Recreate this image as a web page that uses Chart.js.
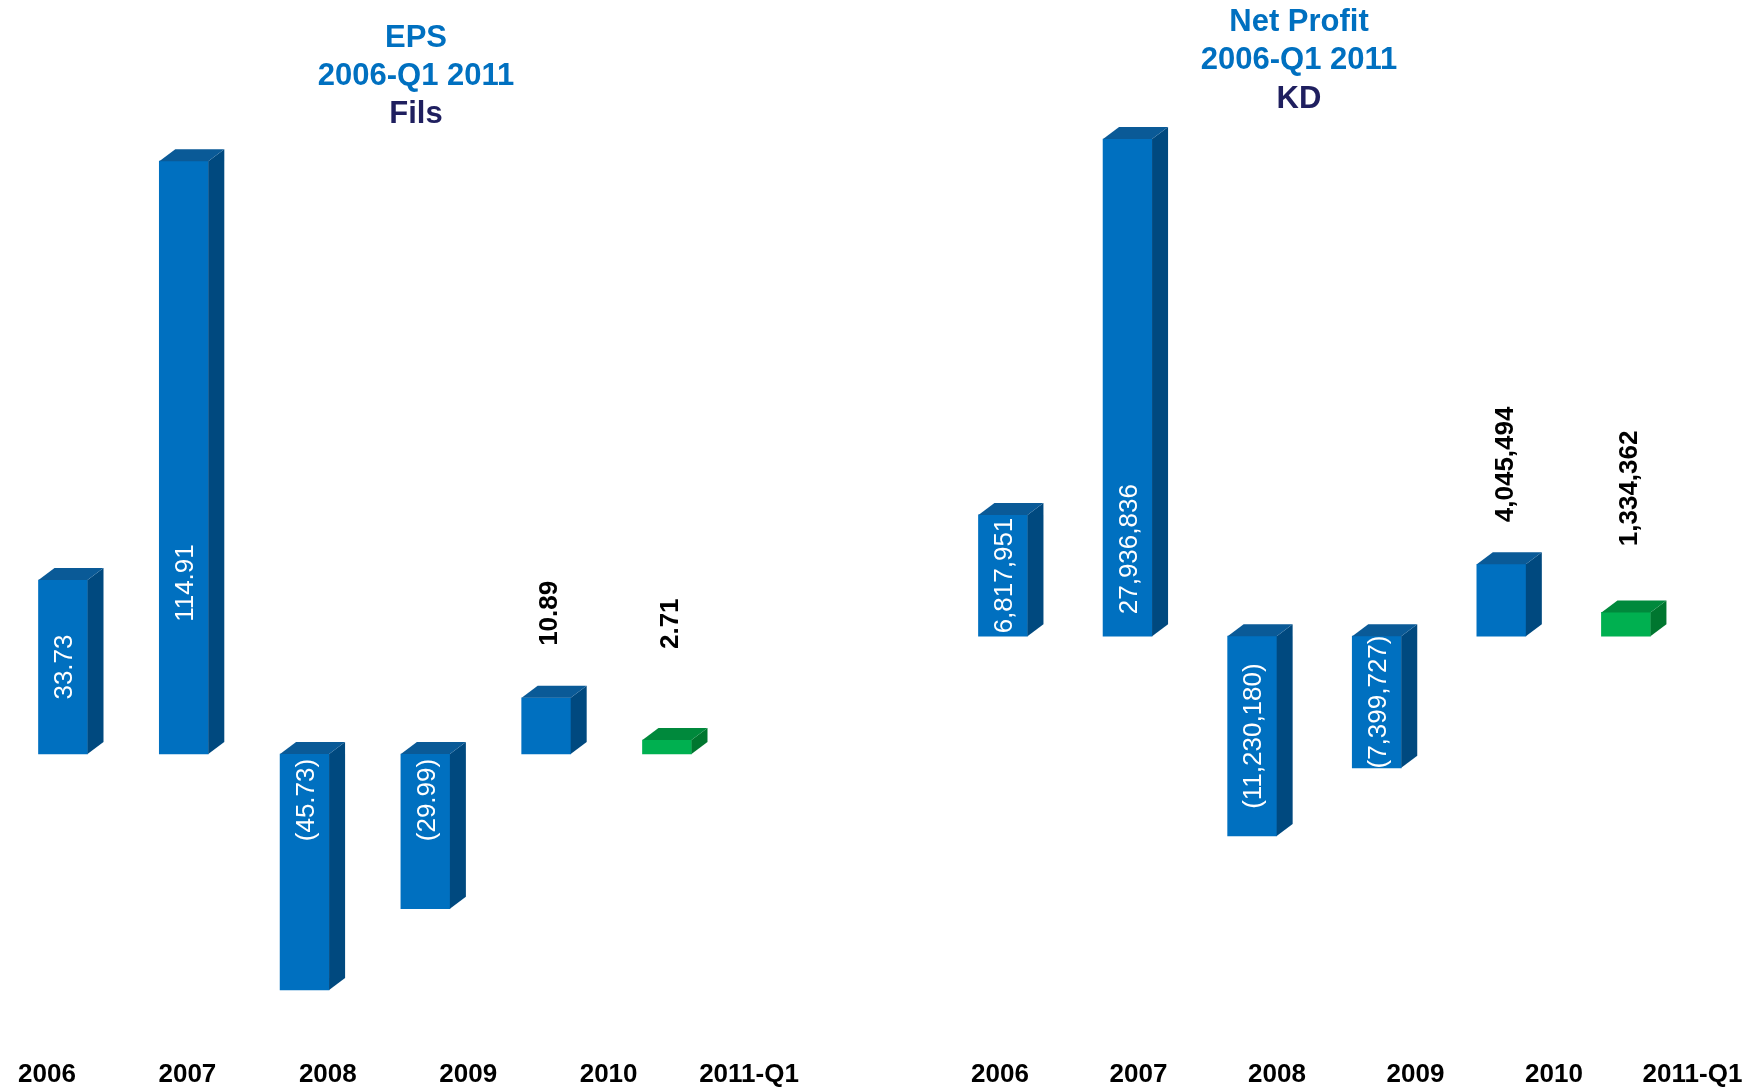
<!DOCTYPE html>
<html>
<head>
<meta charset="utf-8">
<script src="https://cdn.jsdelivr.net/npm/chart.js@4.4.1/dist/chart.umd.min.js"></script>
<style>
  html, body { margin: 0; padding: 0; background: #fff; }
  body { width: 1760px; height: 1090px; position: relative; overflow: hidden; }
  canvas { position: absolute; top: 0; }
  #eps { left: 0; }
  #np { left: 840px; }
</style>
</head>
<body>
<canvas id="eps" width="832" height="1090"></canvas>
<canvas id="np" width="918" height="1090"></canvas>
<script>
const years = ["2006", "2007", "2008", "2009", "2010", "2011-Q1"];
const epsFils = [33.73, 114.91, -45.73, -29.99, 10.89, 2.71];
const netProfitKD = [6817951, 27936836, -11230180, -7399727, 4045494, 1334362];

const FONT = "'Liberation Sans', Arial, sans-serif";
const BLUE = { front: "#0070C0", top: "#0A5A97", side: "#00497F" };
const GREEN = { front: "#00B050", top: "#00893C", side: "#00762F" };
const DX = 16, DY = 12; // depth of the 3d faces

// last bar is the quarter -> green
const shadeOf = (i) => (i === years.length - 1 ? GREEN : BLUE);

const bar3d = {
  id: "bar3d",
  afterDatasetsDraw(chart) {
    const ctx = chart.ctx;
    chart.getDatasetMeta(0).data.forEach((bar, i) => {
      const { x, y, base, width } = bar.getProps(["x", "y", "base", "width"], true);
      const l = x - width / 2, r = x + width / 2;
      const t = Math.min(y, base), b = Math.max(y, base);
      const c = shadeOf(i);
      ctx.save();
      ctx.fillStyle = c.side;
      ctx.beginPath();
      ctx.moveTo(r, t); ctx.lineTo(r + DX, t - DY); ctx.lineTo(r + DX, b - DY); ctx.lineTo(r, b);
      ctx.closePath(); ctx.fill();
      ctx.fillStyle = c.top;
      ctx.beginPath();
      ctx.moveTo(l, t); ctx.lineTo(l + DX, t - DY); ctx.lineTo(r + DX, t - DY); ctx.lineTo(r, t);
      ctx.closePath(); ctx.fill();
      ctx.restore();
    });
  }
};

const barLabels = {
  id: "barLabels",
  afterDatasetsDraw(chart, args, opts) {
    const ctx = chart.ctx;
    const data = chart.data.datasets[0].data;
    chart.getDatasetMeta(0).data.forEach((bar, i) => {
      const v = data[i].y;
      const txt = opts.format(v);
      const { x, y, base } = bar.getProps(["x", "y", "base"], true);
      const h = Math.abs(base - y);
      ctx.save();
      ctx.font = "normal 26px " + FONT;
      const len = ctx.measureText(txt).width;
      ctx.textBaseline = "middle";
      if (len <= h + 6) {
        let cy;
        if (v >= 0) cy = base - Math.min(h / 2, opts.posMax);
        else cy = base + Math.min(h / 2, opts.negMax);
        ctx.translate(x + 2, cy);
        ctx.rotate(-Math.PI / 2);
        ctx.textAlign = "center";
        ctx.fillStyle = "#fff";
        ctx.fillText(txt, 0, 0);
      } else {
        ctx.font = "bold 26px " + FONT;
        const yb = Math.min(y - DY - opts.gap, base - opts.minLift);
        ctx.translate(x + 4, yb);
        ctx.rotate(-Math.PI / 2);
        ctx.textAlign = "left";
        ctx.fillStyle = "#000";
        ctx.fillText(txt, 0, 0);
      }
      ctx.restore();
    });
  }
};

function makeChart(id, values, p) {
  return new Chart(document.getElementById(id), {
    type: "bar",
    data: {
      datasets: [{
        data: values.map((v, i) => ({ x: i, y: v })),
        backgroundColor: values.map((v, i) => shadeOf(i).front),
        barThickness: 49,
        borderWidth: 0
      }]
    },
    plugins: [bar3d, barLabels],
    options: {
      responsive: false,
      animation: false,
      layout: { padding: 0 },
      scales: {
        x: { type: "linear", min: p.xMin, max: p.xMax, offset: false, display: false },
        xl: {
          type: "linear", position: "bottom", min: p.lblMin, max: p.lblMax, offset: false,
          grid: { display: false, drawTicks: false, offset: false },
          border: { display: false },
          afterBuildTicks: (axis) => { axis.ticks = years.map((_, i) => ({ value: i })); },
          ticks: {
            autoSkip: false, maxRotation: 0, padding: 0, color: "#000",
            font: { family: FONT, size: 26, weight: "bold" },
            callback: (v) => years[v]
          }
        },
        y: { min: p.yMin, max: p.yMax, display: false }
      },
      plugins: {
        legend: { display: false },
        tooltip: { enabled: false },
        title: {
          display: true, text: p.title, color: "#0070C0",
          font: { family: FONT, size: 31, weight: "bold", lineHeight: 1.23 },
          padding: { top: p.titleTop, bottom: 0 }
        },
        subtitle: {
          display: true, text: p.unit, color: "#1F1F5F",
          font: { family: FONT, size: 31, weight: "bold", lineHeight: 1.23 },
          padding: { top: p.unitTop, bottom: 0 }
        },
        barLabels: {
          format: p.format, posMax: p.posMax, negMax: p.negMax, gap: p.gap, minLift: p.minLift
        }
      }
    }
  });
}

makeChart("eps", epsFils, {
  title: ["EPS", "2006-Q1 2011"], unit: "Fils", titleTop: 19, unitTop: 0,
  xMin: -0.5215, xMax: 6.366, lblMin: -0.3348, lblMax: 5.591,
  yMin: -59.07, yMax: 120.3,
  posMax: 171, negMax: 46, gap: 40, minLift: 105,
  format: (v) => (v < 0 ? "(" + Math.abs(v).toFixed(2) + ")" : v.toFixed(2))
});

makeChart("np", netProfitKD, {
  title: ["Net Profit", "2006-Q1 2011"], unit: "KD", titleTop: 3, unitTop: 1,
  xMin: -1.308, xMax: 6.060, lblMin: -1.155, lblMax: 5.473,
  yMin: -23.75e6, yMax: 29.1e6,
  posMax: 87, negMax: 138, gap: 30, minLift: 90,
  format: (v) => (v < 0 ? "(" + Math.abs(v).toLocaleString("en-US") + ")" : v.toLocaleString("en-US"))
});
</script>
</body>
</html>
